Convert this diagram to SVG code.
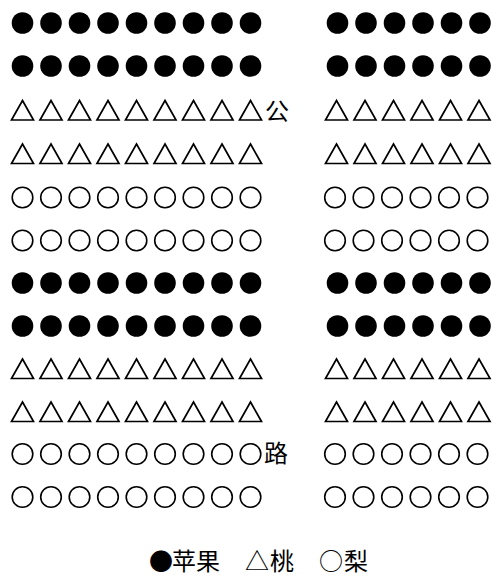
<svg xmlns="http://www.w3.org/2000/svg" xmlns:xlink="http://www.w3.org/1999/xlink" width="493" height="576" viewBox="0 0 493 576">
<style>
.f{fill:#000}
.o{fill:none;stroke:#000;stroke-width:1.6}
.t{fill:none;stroke:#000;stroke-width:1.7;stroke-linejoin:miter}
.lbl{font-family:"Noto Sans CJK SC","Noto Sans",sans-serif;font-size:24px;fill:#000}
</style>
<defs>
<circle id="F" r="10.8" class="f"/>
<circle id="O" r="10.3" class="o"/>
<polygon id="T" points="0,-8.5 11,11 -11,11" class="t"/>
<g id="FL"><use href="#F" x="22.5"/><use href="#F" x="51"/><use href="#F" x="79.5"/><use href="#F" x="108"/><use href="#F" x="136.5"/><use href="#F" x="165"/><use href="#F" x="193.5"/><use href="#F" x="222"/><use href="#F" x="250.5"/></g>
<g id="OL"><use href="#O" x="22.5"/><use href="#O" x="51"/><use href="#O" x="79.5"/><use href="#O" x="108"/><use href="#O" x="136.5"/><use href="#O" x="165"/><use href="#O" x="193.5"/><use href="#O" x="222"/><use href="#O" x="250.5"/></g>
<g id="TL"><use href="#T" x="22.5"/><use href="#T" x="51"/><use href="#T" x="79.5"/><use href="#T" x="108"/><use href="#T" x="136.5"/><use href="#T" x="165"/><use href="#T" x="193.5"/><use href="#T" x="222"/><use href="#T" x="250.5"/></g>
<g id="FR"><use href="#F" x="337.5"/><use href="#F" x="366"/><use href="#F" x="394.5"/><use href="#F" x="423"/><use href="#F" x="451.5"/><use href="#F" x="480"/></g>
<g id="OR"><use href="#O" x="335"/><use href="#O" x="363.5"/><use href="#O" x="392"/><use href="#O" x="420.5"/><use href="#O" x="449"/><use href="#O" x="477.5"/></g>
<g id="TR"><use href="#T" x="336.5"/><use href="#T" x="365"/><use href="#T" x="393.5"/><use href="#T" x="422"/><use href="#T" x="450.5"/><use href="#T" x="479"/></g>
</defs>
<rect width="493" height="576" fill="#fff"/>
<g id="left-block">
<use href="#FL" y="23"/>
<use href="#FL" y="66"/>
<use href="#TL" y="109"/>
<use href="#TL" y="152.5"/>
<use href="#OL" y="197.5"/>
<use href="#OL" y="240.5"/>
<use href="#FL" y="283"/>
<use href="#FL" y="326"/>
<use href="#TL" y="367.5"/>
<use href="#TL" y="410.5"/>
<use href="#OL" y="454"/>
<use href="#OL" y="497"/>
</g>
<g id="right-block">
<use href="#FR" y="23"/>
<use href="#FR" y="66"/>
<use href="#TR" y="109"/>
<use href="#TR" y="152.5"/>
<use href="#OR" y="197.5"/>
<use href="#OR" y="240.5"/>
<use href="#FR" y="283"/>
<use href="#FR" y="326"/>
<use href="#TR" y="367.5"/>
<use href="#TR" y="410.5"/>
<use href="#OR" y="454"/>
<use href="#OR" y="497"/>
</g>
<g id="road-labels">
<text class="lbl" x="265" y="120">公</text>
<text class="lbl" x="264" y="462">路</text>
</g>
<g id="legend">
<text class="lbl" y="570"><tspan x="149">●</tspan><tspan x="172">苹</tspan><tspan x="196">果</tspan><tspan x="245">△</tspan><tspan x="270">桃</tspan><tspan x="319">○</tspan><tspan x="344">梨</tspan></text>
</g>
</svg>
